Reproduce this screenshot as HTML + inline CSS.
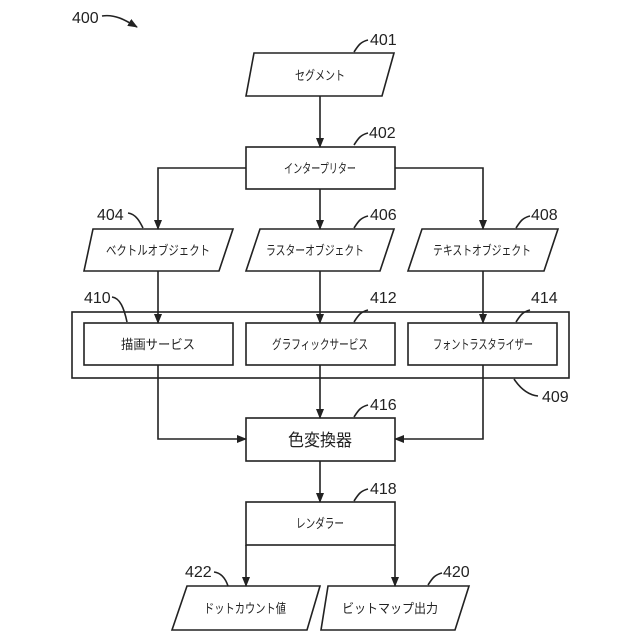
<!DOCTYPE html>
<html><head><meta charset="utf-8"><style>html,body{margin:0;padding:0;background:#fff}svg{display:block}</style></head><body>
<svg width="640" height="640" viewBox="0 0 640 640" xmlns="http://www.w3.org/2000/svg">
<defs><marker id="a" markerWidth="10" markerHeight="10" refX="9" refY="5" orient="auto" markerUnits="userSpaceOnUse"><path d="M0,1 L10,5 L0,9 Z" fill="#222"/></marker></defs>
<g fill="none" stroke="#222" stroke-width="1.6">
<polygon points="254,53 394,53 382,96 246,96"/>
<rect x="246" y="147" width="149" height="42"/>
<polygon points="93,229 233,229 219,271 84,271"/>
<polygon points="260,229 394,229 380,271 246,271"/>
<polygon points="422,229 558,229 544,271 408,271"/>
<rect x="72" y="312" width="497" height="66"/>
<rect x="84" y="323" width="149" height="42"/>
<rect x="246" y="323" width="149" height="42"/>
<rect x="408" y="323" width="149" height="42"/>
<rect x="246" y="418" width="149" height="43"/>
<rect x="246" y="502" width="149" height="43"/>
<polygon points="187,586 320,586 307,630 172,630"/>
<polygon points="328,586 469,586 455,630 321,630"/>
<line x1="320" y1="96" x2="320" y2="147" marker-end="url(#a)"/>
<polyline points="246,168 158,168 158,229" marker-end="url(#a)"/>
<polyline points="395,168 483,168 483,229" marker-end="url(#a)"/>
<line x1="320" y1="189" x2="320" y2="229" marker-end="url(#a)"/>
<line x1="158" y1="271" x2="158" y2="323" marker-end="url(#a)"/>
<line x1="320" y1="271" x2="320" y2="323" marker-end="url(#a)"/>
<line x1="483" y1="271" x2="483" y2="323" marker-end="url(#a)"/>
<polyline points="158,365 158,439 246,439" marker-end="url(#a)"/>
<polyline points="483,365 483,439 395,439" marker-end="url(#a)"/>
<line x1="320" y1="365" x2="320" y2="418" marker-end="url(#a)"/>
<line x1="320" y1="461" x2="320" y2="502" marker-end="url(#a)"/>
<line x1="246" y1="545" x2="246" y2="586" marker-end="url(#a)"/>
<line x1="395" y1="545" x2="395" y2="586" marker-end="url(#a)"/>
<path d="M102,16 C115,14 125,20 137,27" marker-end="url(#a)"/>
<path d="M354,52 C358,46 360,42 368,40"/>
<path d="M354,145 C358,139 360,135 368,133"/>
<path d="M354,228 C358,222 360,218 368,216"/>
<path d="M516,228 C520,222 522,218 530,216"/>
<path d="M128,213 C136,214 140,222 143,228"/>
<path d="M354,322 C358,316 360,312 368,310"/>
<path d="M516,322 C520,316 522,312 530,310"/>
<path d="M112,297 C120,298 124,308 127,322"/>
<path d="M514,379 C520,388 528,395 538,396"/>
<path d="M354,417 C358,411 360,407 368,405"/>
<path d="M354,501 C358,495 360,491 368,489"/>
<path d="M214,572 C222,573 226,580 228,586"/>
<path d="M428,585 C432,579 434,575 442,573"/>
</g>
<g font-family="Liberation Sans, Arial, sans-serif" font-size="16" fill="#222">
<text x="72" y="23">400</text>
<text x="370" y="45">401</text>
<text x="369" y="138">402</text>
<text x="97" y="220">404</text>
<text x="370" y="220">406</text>
<text x="531" y="220">408</text>
<text x="84" y="303">410</text>
<text x="370" y="303">412</text>
<text x="531" y="303">414</text>
<text x="542" y="402">409</text>
<text x="370" y="410">416</text>
<text x="370" y="494">418</text>
<text x="185" y="577">422</text>
<text x="443" y="577">420</text>
</g>
<g font-family="Liberation Sans, 'Noto Sans CJK JP', sans-serif" font-size="13" fill="#222" text-anchor="middle">
<text x="320" y="80" textLength="50" lengthAdjust="spacingAndGlyphs">セグメント</text>
<text x="320" y="173" textLength="72" lengthAdjust="spacingAndGlyphs">インタープリター</text>
<text x="158" y="255" textLength="104" lengthAdjust="spacingAndGlyphs">ベクトルオブジェクト</text>
<text x="315" y="255" textLength="98" lengthAdjust="spacingAndGlyphs">ラスターオブジェクト</text>
<text x="482" y="255" textLength="98" lengthAdjust="spacingAndGlyphs">テキストオブジェクト</text>
<text x="158" y="349" textLength="74" lengthAdjust="spacingAndGlyphs">描画サービス</text>
<text x="320" y="349" textLength="96" lengthAdjust="spacingAndGlyphs">グラフィックサービス</text>
<text x="483" y="349" textLength="100" lengthAdjust="spacingAndGlyphs">フォントラスタライザー</text>
<text x="320" y="446" font-size="17" textLength="64" lengthAdjust="spacingAndGlyphs">色変換器</text>
<text x="320" y="528" textLength="48" lengthAdjust="spacingAndGlyphs">レンダラー</text>
<text x="245" y="613" textLength="82" lengthAdjust="spacingAndGlyphs">ドットカウント値</text>
<text x="390" y="613" textLength="96" lengthAdjust="spacingAndGlyphs">ビットマップ出力</text>
</g>
</svg>
</body></html>
